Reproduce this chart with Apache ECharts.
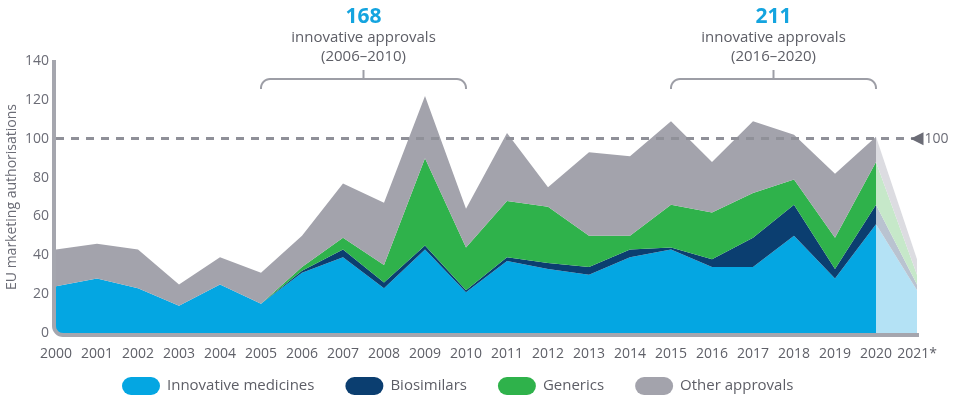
<!DOCTYPE html>
<html>
<head>
<meta charset="utf-8">
<script src="https://cdn.jsdelivr.net/npm/echarts@6/dist/echarts.min.js"></script>
<style>
html,body{margin:0;padding:0;background:#fff;}
#c{width:953px;height:401px;}
</style>
</head>
<body>
<div id="c"></div>
<script>
const years = ['2000','2001','2002','2003','2004','2005','2006','2007','2008','2009','2010','2011','2012','2013','2014','2015','2016','2017','2018','2019','2020','2021*'];
const innovative  = [24,28,23,14,25,15,31,39,23,43,21,37,33,30,39,43,34,34,50,28,56,22];
const biosimilars = [0,0,0,0,0,0,1,4,3,2,1,2,3,4,4,1,4,15,16,5,10,3];
const generics    = [0,0,0,0,0,0,2,6,9,45,22,29,29,16,7,22,24,23,13,16,22,5];
const other       = [19,18,20,11,14,16,16,28,32,32,20,35,10,43,41,43,26,37,23,33,13,8];
const yTicks = [0,20,40,60,80,100,120,140];
const refValue = 100;
const annotations = [
  {big:'168', line1:'innovative approvals', line2:'(2006–2010)', from:'2005', to:'2010'},
  {big:'211', line1:'innovative approvals', line2:'(2016–2020)', from:'2015', to:'2020'}
];

const FONT = '"Open Sans", "Noto Sans", sans-serif';
const lastActual = 20;
const mainPart = arr => arr.map((v,i) => i <= lastActual ? v : '-');
const projPart = arr => arr.map((v,i) => i >= lastActual ? v : '-');

const seriesDefs = [
  {name:'Innovative medicines', data:innovative, color:'#04a6e2', light:'#b4e2f5'},
  {name:'Biosimilars', data:biosimilars, color:'#0b3e70', light:'#b9c3d0'},
  {name:'Generics', data:generics, color:'#2fb24b', light:'#c6e8c9'},
  {name:'Other approvals', data:other, color:'#a3a3ac', light:'#dcdce1'}
];

const series = [];
seriesDefs.forEach((d, k) => {
  const s = {
    name: d.name, type:'line', stack:'main', data: mainPart(d.data),
    symbol:'none', showSymbol:false, smooth:false,
    lineStyle:{width:0, color:d.color}, itemStyle:{color:d.color},
    areaStyle:{color:d.color, opacity:1}, silent:true, z:2
  };
  if (k === 3) {
    s.markLine = {
      silent:true, symbol:['none','none'], label:{show:false},
      lineStyle:{color:'#8f9098', width:3, type:[8,7]},
      data:[[{coord:[0, refValue]},{coord:[20.7, refValue]}]]
    };
    s.markPoint = {
      silent:true, symbol:'triangle', symbolSize:[13,13], symbolRotate:90,
      itemStyle:{color:'#6b6c76'},
      label:{show:true, position:'right', distance:1, formatter:String(refValue), color:'#6b6c76', fontSize:14, fontFamily:FONT},
      data:[{coord:['2021*', refValue]}]
    };
  }
  series.push(s);
});
seriesDefs.forEach(d => {
  series.push({
    name: d.name + ' (projection)', type:'line', stack:'proj', data: projPart(d.data),
    symbol:'none', showSymbol:false, lineStyle:{width:0, color:d.light}, itemStyle:{color:d.light},
    areaStyle:{color:d.light, opacity:1}, silent:true, z:1
  });
});

const option = {
  animation:false,
  backgroundColor:'#ffffff',
  grid:{left:56, right:36, top:61, bottom:68, containLabel:false, outerBoundsMode:'none'},
  legend:{
    data: seriesDefs.map(d => d.name),
    left:122, top:377, padding:0,
    icon:'path://M9,0 H29 A9,9 0 0 1 29,18 H9 A9,9 0 0 1 9,0 Z',
    itemWidth:38, itemHeight:18, itemGap:31,
    textStyle:{color:'#5d5e66', fontSize:15, fontFamily:FONT, padding:[0,0,0,2]},
    selectedMode:false
  },
  xAxis:{
    type:'category', data:years, boundaryGap:false,
    axisLine:{show:false}, axisTick:{show:false},
    axisLabel:{color:'#5f6068', fontSize:14, fontFamily:FONT, margin:14, interval:0}
  },
  yAxis:{
    type:'value', min:0, max:140, interval:20,
    name:'EU marketing authorisations', nameLocation:'middle', nameGap:37, nameMoveOverlap:false,
    nameTextStyle:{color:'#6b6c76', fontSize:14, fontFamily:FONT},
    axisLine:{show:false}, axisTick:{show:false}, splitLine:{show:false},
    axisLabel:{color:'#6b6c76', fontSize:14, fontFamily:FONT, margin:7,
      formatter: v => yTicks.indexOf(v) >= 0 ? String(v) : ''}
  },
  series: series
};

const chart = echarts.init(document.getElementById('c'), null, {renderer:'canvas'});
chart.setOption(option);

const px = v => chart.convertToPixel({xAxisIndex:0}, v);
const py = v => chart.convertToPixel({yAxisIndex:0}, v);

function arcPts(cx, cy, r, a0, a1, n) {
  const pts = [];
  for (let i = 0; i <= n; i++) {
    const a = a0 + (a1 - a0) * i / n;
    pts.push([cx + r * Math.cos(a), cy + r * Math.sin(a)]);
  }
  return pts;
}

const graphics = [];
(function(){
  const x0 = px('2000') - 2, y0 = py(0) + 2, yTop = py(140) - 1, xEnd = px('2021*') + 2, r = 9;
  let pts = [[x0, yTop], [x0, y0 - r]];
  pts = pts.concat(arcPts(x0 + r, y0 - r, r, Math.PI, Math.PI / 2, 8));
  pts.push([xEnd, y0]);
  graphics.push({type:'polyline', shape:{points:pts}, style:{stroke:'#a5a6ae', lineWidth:4, fill:null}, silent:true, z:10});
})();

annotations.forEach(a => {
  const xl = px(a.from), xr = px(a.to), xc = (xl + xr) / 2;
  const yb = 79, r = 9, drop = 10;
  let pts = [[xl, yb + drop], [xl, yb + r]];
  pts = pts.concat(arcPts(xl + r, yb + r, r, Math.PI, 1.5 * Math.PI, 8));
  pts.push([xr - r, yb]);
  pts = pts.concat(arcPts(xr - r, yb + r, r, 1.5 * Math.PI, 2 * Math.PI, 8));
  pts.push([xr, yb + drop]);
  graphics.push({type:'polyline', shape:{points:pts}, style:{stroke:'#9d9ea6', lineWidth:2, fill:null}, silent:true});
  graphics.push({type:'line', shape:{x1:xc, y1:yb, x2:xc, y2:yb - 9}, style:{stroke:'#9d9ea6', lineWidth:2}, silent:true});
  graphics.push({type:'text', x:xc, y:17, style:{text:a.big, font:'bold 21px ' + FONT, fill:'#14a4df', align:'center', verticalAlign:'middle'}, silent:true});
  graphics.push({type:'text', x:xc, y:38, style:{text:a.line1, font:'15px ' + FONT, fill:'#5d5e66', align:'center', verticalAlign:'middle'}, silent:true});
  graphics.push({type:'text', x:xc, y:57, style:{text:a.line2, font:'15px ' + FONT, fill:'#5d5e66', align:'center', verticalAlign:'middle'}, silent:true});
});

chart.setOption({graphic: graphics});
</script>
</body>
</html>
